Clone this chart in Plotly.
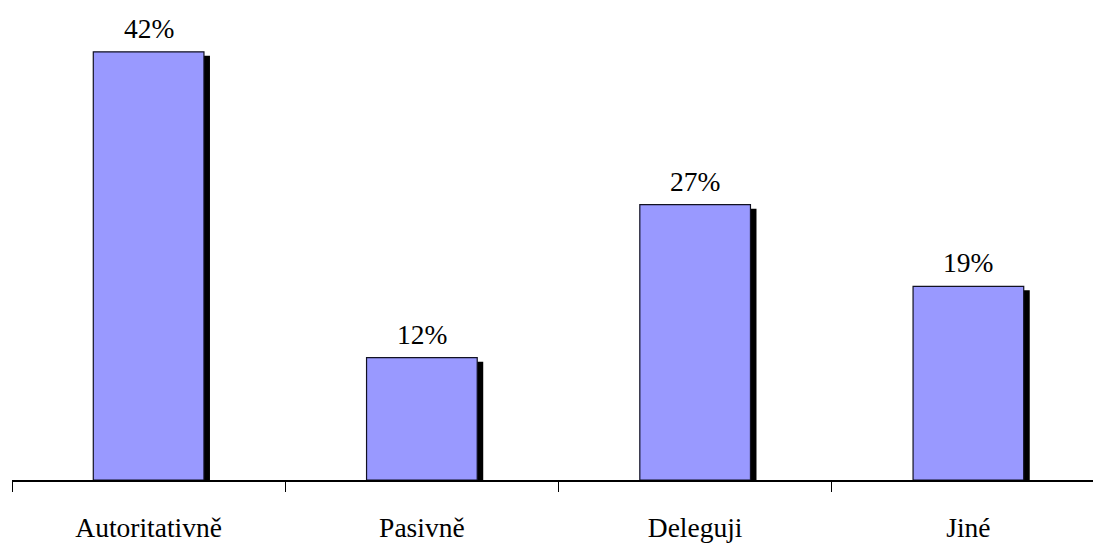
import plotly.graph_objects as go

# Survey answers and their shares (percent)
categories = ["Autoritativně", "Pasivně", "Deleguji", "Jiné"]
shares = [42, 12, 27, 19]

BAR_WIDTH = 0.405
SHADOW_DX = 0.022   # shadow shift to the right, in category units
SHADOW_DY = 0.4     # shadow drop below the bar top, in value units

FONT = "Liberation Serif"
FONT_SIZE = 27.5

fig = go.Figure()

# Black drop shadow behind each bar
fig.add_trace(go.Bar(
    x=categories,
    y=[v - SHADOW_DY for v in shares],
    width=BAR_WIDTH,
    offset=-BAR_WIDTH / 2 + SHADOW_DX,
    marker=dict(color="black", line=dict(width=0)),
    hoverinfo="skip",
    showlegend=False,
))

# Main periwinkle bars
fig.add_trace(go.Bar(
    x=categories,
    y=shares,
    width=BAR_WIDTH,
    offset=-BAR_WIDTH / 2,
    marker=dict(color="#9999FF", line=dict(color="#111122", width=1.2)),
    showlegend=False,
))

# Percentage labels above each bar
for cat, v in zip(categories, shares):
    fig.add_annotation(
        x=cat, y=v, text=f"{v}%",
        showarrow=False, yanchor="bottom", yshift=6,
        font=dict(family=FONT, size=FONT_SIZE, color="black"),
    )

fig.update_layout(
    barmode="overlay",
    width=1093,
    height=545,
    margin=dict(l=12, r=0, t=11, b=65),
    paper_bgcolor="white",
    plot_bgcolor="white",
    font=dict(family=FONT, size=FONT_SIZE, color="black"),
    xaxis=dict(
        type="category",
        range=[-0.5, 3.456],
        showline=True,
        linecolor="black",
        linewidth=1.5,
        ticks="outside",
        tickson="boundaries",
        ticklen=10,
        tickcolor="black",
        tickwidth=1,
        showgrid=False,
        zeroline=False,
        tickfont=dict(family=FONT, size=FONT_SIZE, color="black"),
        ticklabelstandoff=22,
    ),
    yaxis=dict(
        range=[0, 46],
        visible=False,
        showgrid=False,
        zeroline=False,
    ),
)

fig.write_html("out.html")
